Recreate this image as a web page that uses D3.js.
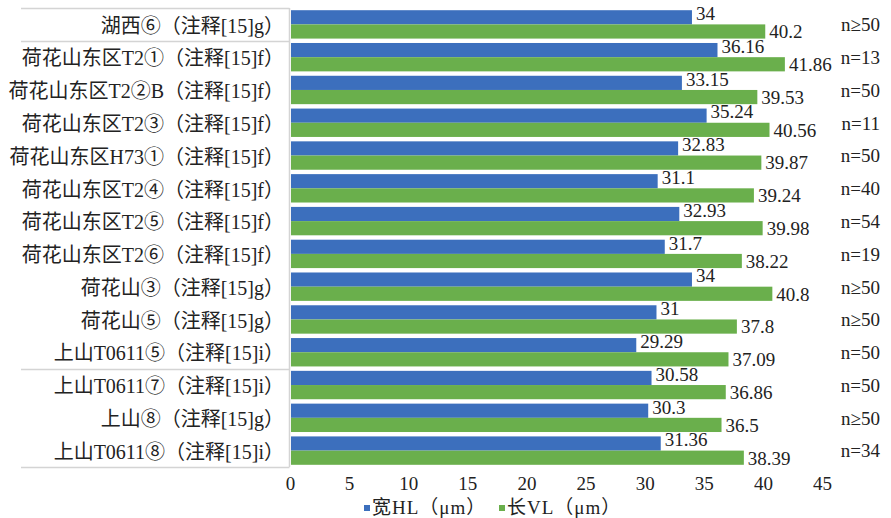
<!DOCTYPE html>
<html><head><meta charset="utf-8">
<script src="https://cdn.jsdelivr.net/npm/d3@7"></script>
<style>
html,body{margin:0;padding:0;background:#fff;}
svg{display:block;}
text{font-family:"Liberation Serif","Noto Sans CJK SC",serif;fill:#222;}
</style></head>
<body>
<svg id="chart" width="891" height="518"></svg>
<script>
const categories = ["湖西⑥（注释[15]g）", "荷花山东区T2①（注释[15]f）", "荷花山东区T2②B（注释[15]f）", "荷花山东区T2③（注释[15]f）", "荷花山东区H73①（注释[15]f）", "荷花山东区T2④（注释[15]f）", "荷花山东区T2⑤（注释[15]f）", "荷花山东区T2⑥（注释[15]f）", "荷花山③（注释[15]g）", "荷花山⑤（注释[15]g）", "上山T0611⑤（注释[15]i）", "上山T0611⑦（注释[15]i）", "上山⑧（注释[15]g）", "上山T0611⑧（注释[15]i）"];
const widthHL = [34, 36.16, 33.15, 35.24, 32.83, 31.1, 32.93, 31.7, 34, 31, 29.29, 30.58, 30.3, 31.36];
const lengthVL = [40.2, 41.86, 39.53, 40.56, 39.87, 39.24, 39.98, 38.22, 40.8, 37.8, 37.09, 36.86, 36.5, 38.39];
const nLabels = ["n≥50", "n=13", "n=50", "n=11", "n=50", "n=40", "n=54", "n=19", "n≥50", "n≥50", "n=50", "n=50", "n≥50", "n=34"];
const seriesNames = ["宽HL（μm）", "长VL（μm）"];
const xTicks = [0, 5, 10, 15, 20, 25, 30, 35, 40, 45];

const colors = ["#3c6fbd", "#6aaf4c"];
const svg = d3.select("#chart");

const x = d3.scaleLinear().domain([0, 45]).range([290, 822]);
const y = d3.scaleBand().domain(categories).range([8, 467]);
const inner = d3.scaleBand().domain([0, 1]).range([0, y.bandwidth()]).paddingOuter(0.155);

// table-like border lines on left
const gridColor = "#d4d4d4";
const boundaries = [0, 1, 11, 14].map(i => 8 + i * y.step());
svg.selectAll("line.hb").data(boundaries).enter().append("line")
  .attr("x1", 21).attr("x2", 289.5)
  .attr("y1", d => Math.round(d) + 0.5).attr("y2", d => Math.round(d) + 0.5)
  .attr("stroke", gridColor).attr("stroke-width", 1.5);
svg.append("line").attr("x1", 289.5).attr("x2", 289.5).attr("y1", 8).attr("y2", 467)
  .attr("stroke", gridColor).attr("stroke-width", 1.5);

const series = [widthHL, lengthVL];
series.forEach((vals, s) => {
  svg.append("g").selectAll("rect").data(vals).enter().append("rect")
    .attr("x", x(0) + 1)
    .attr("y", (d, i) => y(categories[i]) + inner(s))
    .attr("width", d => x(d) - x(0) - 1)
    .attr("height", inner.bandwidth())
    .attr("fill", colors[s]);
  svg.append("g").selectAll("text").data(vals).enter().append("text")
    .attr("x", d => x(d) + 4)
    .attr("y", (d, i) => y(categories[i]) + inner(s) + inner.bandwidth() / 2 + (s === 0 ? -4 : 0))
    .attr("dy", "0.36em")
    .attr("font-size", 19)
    .text(d => d);
});

// category labels
svg.append("g").selectAll("text").data(categories).enter().append("text")
  .attr("x", 284)
  .attr("y", d => y(d) + y.bandwidth() / 2 + 1)
  .attr("dy", "0.36em")
  .attr("text-anchor", "end")
  .attr("font-size", 20)
  .attr("fill", "#2a2a2a")
  .text(d => d);

// n labels
svg.append("g").selectAll("text").data(nLabels).enter().append("text")
  .attr("x", 880)
  .attr("y", (d, i) => y(categories[i]) + y.bandwidth() / 2)
  .attr("dy", "0.36em")
  .attr("text-anchor", "end")
  .attr("font-size", 19)
  .text(d => d);

// x axis
const axis = d3.axisBottom(x).tickValues(xTicks).tickSize(0).tickPadding(0);
const ax = svg.append("g").attr("transform", "translate(0,476)").call(axis);
ax.select(".domain").remove();
ax.selectAll("text").attr("font-size", 19).attr("fill", "#222")
  .attr("font-family", "Liberation Serif").attr("dy", "0.71em");

// legend
const legX = [364, 499];
seriesNames.forEach((nm, s) => {
  svg.append("rect").attr("x", legX[s]).attr("y", 505).attr("width", 6).attr("height", 6).attr("fill", colors[s]);
  svg.append("text").attr("x", legX[s] + 8).attr("y", 507).attr("dy", "0.36em")
    .attr("font-size", 19).attr("letter-spacing", 1).text(nm);
});
</script>
</body></html>
